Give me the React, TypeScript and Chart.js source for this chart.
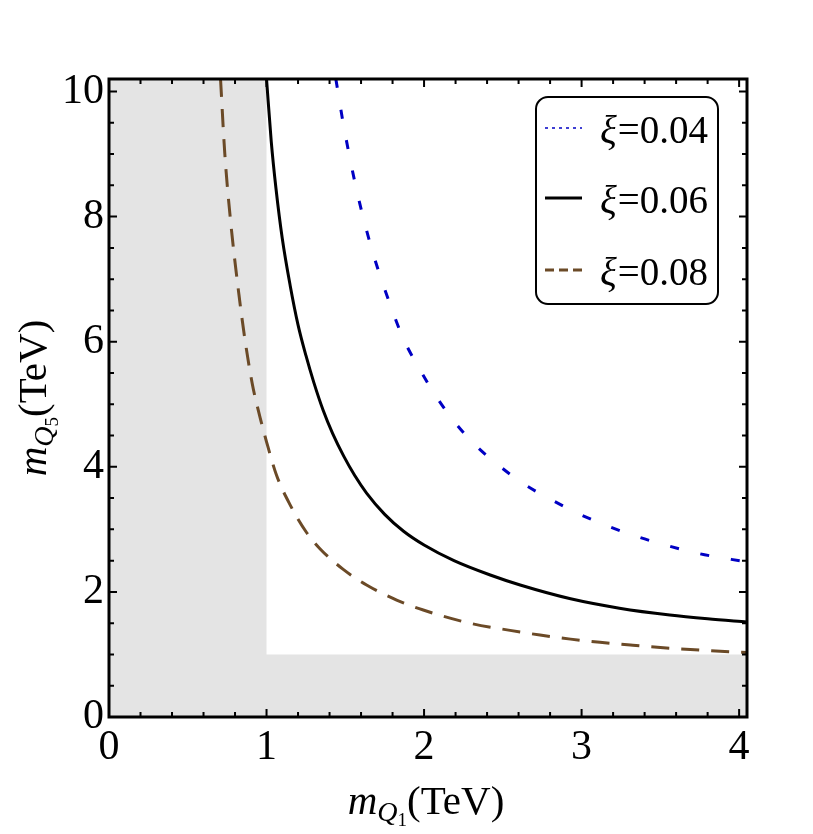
import React, { useEffect, useRef } from 'react';
import { Chart, registerables } from 'chart.js';

Chart.register(...registerables);

// ---- data ----
const xi04X = [1.44, 1.487, 1.567, 1.667, 1.794, 1.868, 1.963, 2.07, 2.186, 2.32, 2.47, 2.63, 2.81, 2.99, 3.18, 3.37, 3.56, 3.75, 3.95, 4.05];
const xi04Y = [10.2, 9.49, 8.48, 7.49, 6.53, 6.05, 5.6, 5.15, 4.74, 4.36, 4.03, 3.73, 3.47, 3.24, 3.04, 2.87, 2.73, 2.61, 2.52, 2.48];

const xi06X = [1.0, 1.03, 1.06, 1.1, 1.15, 1.2, 1.25, 1.3, 1.36, 1.42, 1.49, 1.56, 1.635, 1.75, 1.87, 2.0, 2.19, 2.42, 2.61, 2.93, 3.24, 3.56, 3.8, 4.05];
const xi06Y = [10.2, 9.2, 8.45, 7.65, 6.9, 6.27, 5.78, 5.35, 4.9, 4.53, 4.17, 3.86, 3.58, 3.24, 2.97, 2.75, 2.5, 2.27, 2.11, 1.89, 1.74, 1.63, 1.57, 1.52];

const xi08X = [0.708, 0.735, 0.771, 0.825, 0.865, 0.91, 0.96, 1.0, 1.063, 1.148, 1.254, 1.339, 1.487, 1.635, 1.826, 1.995, 2.29, 2.546, 2.736, 2.93, 3.117, 3.31, 3.5, 3.69, 3.88, 4.05];
const xi08Y = [10.2, 9.01, 7.95, 6.75, 6.0, 5.32, 4.78, 4.4, 3.87, 3.4, 2.95, 2.69, 2.36, 2.11, 1.87, 1.71, 1.5, 1.385, 1.31, 1.245, 1.195, 1.15, 1.11, 1.08, 1.05, 1.03];

// excluded (grey) region boundary: filled down to y = 0
const greyX = [0, 1, 1, 4.05];
const greyY = [10.2, 10.2, 1, 1];

const seriesLabels = ['ξ=0.04', 'ξ=0.06', 'ξ=0.08'];
const xTickValues = [0, 1, 2, 3, 4];
const yTickValues = [0, 2, 4, 6, 8, 10];
const xMinorStep = 0.2;
const yMinorStep = 0.5;
const X_MIN = 0;
const X_MAX = 4.05;
const Y_MIN = 0;
const Y_MAX = 10.2;

const FONT = "'Liberation Serif', 'Times New Roman', serif";
const BLUE = '#0000c4';
const BLACK = '#000000';
const BROWN = '#6b4a27';
const GREY = '#e4e4e4';

const toXY = (xs: number[], ys: number[]) => xs.map((x, i) => ({ x, y: ys[i] }));

type Part = { t: string; it: boolean; size: number; dy: number };

function drawRich(ctx: CanvasRenderingContext2D, parts: Part[], cx: number, baseY: number) {
  let total = 0;
  const widths: number[] = [];
  for (const p of parts) {
    ctx.font = `${p.it ? 'italic ' : ''}${p.size}px ${FONT}`;
    const w = ctx.measureText(p.t).width;
    widths.push(w);
    total += w;
  }
  let x = cx - total / 2;
  ctx.textAlign = 'left';
  ctx.textBaseline = 'alphabetic';
  parts.forEach((p, i) => {
    ctx.font = `${p.it ? 'italic ' : ''}${p.size}px ${FONT}`;
    ctx.fillText(p.t, x, baseY + p.dy);
    x += widths[i];
  });
}

const framePlugin = {
  id: 'framePlugin',
  afterDatasetsDraw(chart: any) {
    const { ctx, chartArea, scales } = chart;
    const { left, right, top, bottom } = chartArea;
    const xs = scales.x;
    const ys = scales.y;
    ctx.save();
    ctx.strokeStyle = '#000';
    ctx.lineWidth = 2;
    ctx.lineCap = 'butt';
    const MAJ = 8;
    const MIN = 5;
    const nX = Math.floor((X_MAX - X_MIN) / xMinorStep + 1e-6);
    for (let i = 0; i <= nX; i++) {
      const v = X_MIN + i * xMinorStep;
      const isMajor = xTickValues.some((t) => Math.abs(t - v) < 1e-6);
      const len = isMajor ? MAJ : MIN;
      const px = xs.getPixelForValue(v);
      ctx.beginPath();
      ctx.moveTo(px, bottom);
      ctx.lineTo(px, bottom - len);
      ctx.moveTo(px, top);
      ctx.lineTo(px, top + len);
      ctx.stroke();
    }
    const nY = Math.floor((Y_MAX - Y_MIN) / yMinorStep + 1e-6);
    for (let i = 0; i <= nY; i++) {
      const v = Y_MIN + i * yMinorStep;
      const isMajor = yTickValues.some((t) => Math.abs(t - v) < 1e-6);
      const len = isMajor ? MAJ : MIN;
      const py = ys.getPixelForValue(v);
      ctx.beginPath();
      ctx.moveTo(left, py);
      ctx.lineTo(left + len, py);
      ctx.moveTo(right, py);
      ctx.lineTo(right - len, py);
      ctx.stroke();
    }
    ctx.lineWidth = 3;
    ctx.strokeRect(left, top, right - left, bottom - top);
    ctx.restore();
  },
  afterDraw(chart: any) {
    const { ctx, chartArea } = chart;
    const { left, right, top, bottom } = chartArea;
    ctx.save();
    // legend box
    const bx = right - 211;
    const by = top + 18;
    const bw = 182;
    const bh = 207;
    const r = 12;
    ctx.beginPath();
    ctx.moveTo(bx + r, by);
    ctx.lineTo(bx + bw - r, by);
    ctx.arcTo(bx + bw, by, bx + bw, by + r, r);
    ctx.lineTo(bx + bw, by + bh - r);
    ctx.arcTo(bx + bw, by + bh, bx + bw - r, by + bh, r);
    ctx.lineTo(bx + r, by + bh);
    ctx.arcTo(bx, by + bh, bx, by + bh - r, r);
    ctx.lineTo(bx, by + r);
    ctx.arcTo(bx, by, bx + r, by, r);
    ctx.closePath();
    ctx.fillStyle = '#fff';
    ctx.fill();
    ctx.lineWidth = 2;
    ctx.strokeStyle = '#000';
    ctx.stroke();

    const ds = chart.data.datasets.filter((d: any) => d.label);
    const rowBase = [by + 46, by + 116, by + 188];
    ds.forEach((d: any, i: number) => {
      const base = rowBase[i];
      const ly = base - 15;
      ctx.save();
      ctx.strokeStyle = d.borderColor;
      if (i === 0) {
        ctx.lineWidth = 1.5;
        ctx.setLineDash([3, 4]);
      } else if (i === 1) {
        ctx.lineWidth = 3;
        ctx.setLineDash([]);
      } else {
        ctx.lineWidth = 3;
        ctx.setLineDash([9, 5]);
      }
      ctx.beginPath();
      ctx.moveTo(bx + 9, ly);
      ctx.lineTo(bx + 46, ly);
      ctx.stroke();
      ctx.restore();
      const lbl: string = d.label;
      ctx.fillStyle = '#000';
      ctx.textBaseline = 'alphabetic';
      ctx.textAlign = 'left';
      ctx.font = `italic 39px ${FONT}`;
      const g = lbl.charAt(0);
      ctx.fillText(g, bx + 64, base);
      const gw = ctx.measureText(g).width;
      ctx.font = `39px ${FONT}`;
      ctx.fillText(lbl.slice(1), bx + 64 + gw + 1, base);
    });

    // axis titles
    ctx.fillStyle = '#000';
    const cx = (left + right) / 2;
    drawRich(
      ctx,
      [
        { t: 'm', it: true, size: 41, dy: 0 },
        { t: 'Q', it: true, size: 28, dy: 7 },
        { t: '1', it: false, size: 19, dy: 12 },
        { t: '(TeV)', it: false, size: 41, dy: 0 },
      ],
      cx - 2,
      814
    );
    const cy = (top + bottom) / 2;
    ctx.save();
    ctx.translate(46, cy);
    ctx.rotate(-Math.PI / 2);
    drawRich(
      ctx,
      [
        { t: 'm', it: true, size: 41, dy: 0 },
        { t: 'Q', it: true, size: 28, dy: 7 },
        { t: '5', it: false, size: 19, dy: 12 },
        { t: '(TeV)', it: false, size: 41, dy: 0 },
      ],
      0,
      0
    );
    ctx.restore();
    ctx.restore();
  },
};

export default function App() {
  const ref = useRef<HTMLCanvasElement | null>(null);
  useEffect(() => {
    if (!ref.current) return;
    const chart = new Chart(ref.current, {
      type: 'line',
      data: {
        datasets: [
          {
            label: seriesLabels[0],
            data: toXY(xi04X, xi04Y),
            borderColor: BLUE,
            borderWidth: 3,
            borderDash: [9, 22],
            pointRadius: 0,
            cubicInterpolationMode: 'monotone',
            fill: false,
            order: 1,
          },
          {
            label: seriesLabels[1],
            data: toXY(xi06X, xi06Y),
            borderColor: BLACK,
            borderWidth: 3,
            pointRadius: 0,
            cubicInterpolationMode: 'monotone',
            fill: false,
            order: 1,
          },
          {
            label: seriesLabels[2],
            data: toXY(xi08X, xi08Y),
            borderColor: BROWN,
            borderWidth: 3,
            borderDash: [18, 12],
            pointRadius: 0,
            cubicInterpolationMode: 'monotone',
            fill: false,
            order: 1,
          },
          {
            label: '',
            data: toXY(greyX, greyY),
            borderWidth: 0,
            borderColor: 'rgba(0,0,0,0)',
            backgroundColor: GREY,
            pointRadius: 0,
            tension: 0,
            fill: 'origin',
            order: 10,
          },
        ],
      },
      options: {
        animation: false,
        responsive: false,
        devicePixelRatio: 1,
        layout: { padding: { left: 0, right: 66, top: 79, bottom: 0 } },
        plugins: {
          legend: { display: false },
          tooltip: { enabled: false },
        },
        scales: {
          x: {
            type: 'linear',
            min: X_MIN,
            max: X_MAX,
            grid: { display: false, drawTicks: false },
            border: { display: false },
            ticks: {
              stepSize: 1,
              includeBounds: false,
              autoSkip: false,
              maxRotation: 0,
              padding: 6,
              color: '#000',
              font: { family: FONT, size: 42 },
              callback: (v: any) => String(v),
            },
            afterFit: (s: any) => {
              s.height = 117;
            },
          },
          y: {
            type: 'linear',
            min: Y_MIN,
            max: Y_MAX,
            grid: { display: false, drawTicks: false },
            border: { display: false },
            ticks: {
              stepSize: 2,
              includeBounds: false,
              autoSkip: false,
              padding: 5,
              color: '#000',
              font: { family: FONT, size: 42 },
              callback: (v: any) => String(v),
            },
            afterFit: (s: any) => {
              s.width = 109;
            },
          },
        },
      } as any,
      plugins: [framePlugin],
    });
    return () => chart.destroy();
  }, []);
  return (
    <div style={{ position: 'absolute', left: 0, top: 0, width: 813, height: 834 }}>
      <canvas ref={ref} width={813} height={834} style={{ width: 813, height: 834, display: 'block' }} />
    </div>
  );
}
